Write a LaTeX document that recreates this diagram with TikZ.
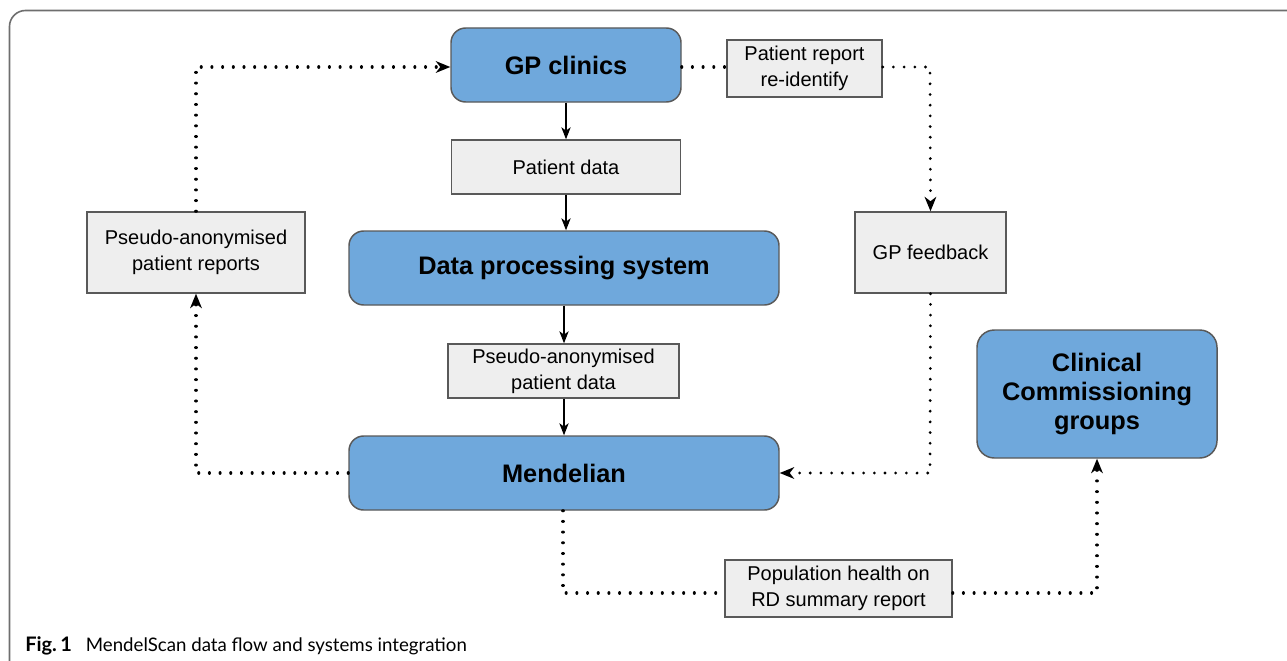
\documentclass[tikz,border=0pt]{standalone}
\usepackage{fontspec}
\setmainfont{Liberation Sans}
\newfontfamily\capfont{Lato}
\usetikzlibrary{arrows.meta}
\definecolor{boxblue}{HTML}{6FA8DC}
\definecolor{boxgray}{HTML}{EEEEEE}
\definecolor{edgegray}{HTML}{595959}
\definecolor{framegray}{HTML}{6E6E6E}
\tikzset{
  bluebox/.style={draw=edgegray, line width=1.1pt, fill=boxblue, rounded corners=11pt, align=center, font=\bfseries\fontsize{19}{22}\selectfont, inner sep=0pt},
  graybox/.style={draw=edgegray, line width=1.1pt, fill=boxgray, align=center, font=\fontsize{15}{19.5}\selectfont, inner sep=0pt},
  solidarrow/.style={draw=black, line width=0.9pt, -{Stealth[length=9pt,width=7pt,inset=2.5pt]}},
  dotline/.style={draw=black, line width=2.3pt, line cap=round, dash pattern=on 0.01pt off 8pt},
  dotarrow/.style={dotline, -{Stealth[length=11pt,width=9pt,inset=3.5pt,line width=0pt]}},
}
\begin{document}
\begin{tikzpicture}[x=0.75pt,y=-0.75pt]
\useasboundingbox (0,0) rectangle (1287,660);
\draw[framegray, line width=1.2pt, rounded corners=12pt] (9.5,700) -- (9.5,10.5) -- (1320,10.5);

\node[bluebox, minimum width=172.5pt, minimum height=55.5pt] (gp) at (566,65) {GP clinics};
\node[graybox, minimum width=171.75pt, minimum height=40.5pt] (pd) at (566,167) {Patient data};
\node[bluebox, minimum width=322.5pt, minimum height=55.5pt] (dps) at (564,268) {Data processing system};
\node[graybox, minimum width=173.25pt, minimum height=40.5pt] (ppd) at (563.5,371) {Pseudo-anonymised\\patient data};
\node[bluebox, minimum width=322.5pt, minimum height=55.5pt] (men) at (564,473) {Mendelian};
\node[graybox, minimum width=163.5pt, minimum height=60.75pt] (ppr) at (196,252.5) {Pseudo-anonymised\\patient reports};
\node[graybox, minimum width=116.25pt, minimum height=42.75pt] (prr) at (804.5,68.5) {Patient report\\re-identify};
\node[graybox, minimum width=113.25pt, minimum height=60.75pt] (gpf) at (930.5,252.5) {GP feedback};
\node[bluebox, minimum width=180pt, minimum height=96pt, rounded corners=13pt] (ccg) at (1097,394) {Clinical\\Commissioning\\groups};
\node[graybox, minimum width=170.25pt, minimum height=42.75pt] (pop) at (838.5,588.5) {Population health on\\RD summary report};

\node[anchor=base west, inner sep=0pt, font=\capfont\fontsize{14}{16}\selectfont] (cap) at (25,651) {{\fontsize{15}{16}\selectfont\textbf{Fig.\,1}}\hspace{0.75em}MendelScan data flow and systems integration};

\draw[solidarrow] (gp) -- (pd);
\draw[solidarrow] (pd) -- (dps.north -| pd.south);
\draw[solidarrow] (dps) -- (ppd.north -| dps.south);
\draw[solidarrow] (ppd.south -| men.north) -- (men);

\coordinate (c1) at (196,473);
\coordinate (c2) at (196,67);
\coordinate (c3) at (930,67);
\coordinate (c4) at (930,473);
\coordinate (c5) at (563,593);
\coordinate (c6) at (1097,593);

\draw[dotarrow] (men.west |- c1) -- (c1) -- (ppr.south);
\draw[dotarrow] (ppr.north) -- (c2) -- (gp.west |- c2);
\draw[dotline] (gp.east |- c2) -- (prr.west |- c2);
\draw[dotarrow] (prr.east |- c3) -- (c3) -- (gpf.north);
\draw[dotarrow] (gpf.south) -- (c4) -- (men.east |- c4);
\draw[dotline] (men.south -| c5) -- (c5) -- (pop.west |- c5);
\draw[dotarrow] (pop.east |- c6) -- (c6) -- (ccg.south);
\end{tikzpicture}
\end{document}
